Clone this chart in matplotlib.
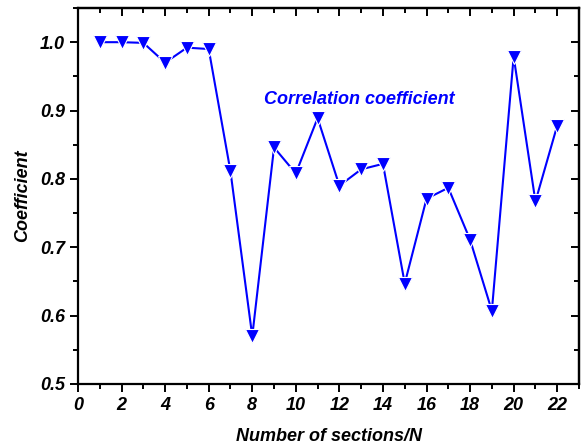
import matplotlib
matplotlib.use("Agg")
import matplotlib.pyplot as plt
from matplotlib.ticker import MultipleLocator

# === DATA ===
sections = [1, 2, 3, 4, 5, 6, 7, 8, 9, 10, 11, 12, 13, 14, 15, 16, 17, 18, 19, 20, 21, 22]
coefficient = [1.0, 1.0, 0.999, 0.970, 0.992, 0.990, 0.811, 0.570, 0.846, 0.808, 0.889,
               0.790, 0.814, 0.822, 0.647, 0.771, 0.787, 0.711, 0.607, 0.979, 0.767, 0.878]

plt.rcParams['font.family'] = ['Liberation Sans', 'DejaVu Sans']
plt.rcParams['font.weight'] = 'bold'
plt.rcParams['font.style'] = 'italic'
plt.rcParams['axes.labelweight'] = 'bold'

FS = 13

fig = plt.figure(figsize=(5.83, 4.45), dpi=100)
ax = fig.add_axes([78 / 583, 1 - 384 / 445, (579 - 78) / 583, (384 - 8) / 445])

ax.plot(sections, coefficient, color='#0000ff', lw=1.5, marker='v', ms=10.5,
        mfc='#0000ff', mec='white', mew=0.8)

ax.text(8.55, 0.916, 'Correlation coefficient', color='#0000ff', fontsize=FS,
        fontweight='bold', fontstyle='italic', va='center', ha='left')

ax.set_xlim(0, 23)
ax.set_ylim(0.5, 1.05)
ax.xaxis.set_major_locator(MultipleLocator(2))
ax.xaxis.set_minor_locator(MultipleLocator(1))
ax.yaxis.set_major_locator(MultipleLocator(0.1))
ax.yaxis.set_minor_locator(MultipleLocator(0.05))
ax.yaxis.set_major_formatter(plt.FormatStrFormatter('%.1f'))

for s in ax.spines.values():
    s.set_linewidth(1.6)

ax.tick_params(which='both', direction='out', width=1.4, labelsize=FS)
ax.tick_params(which='major', length=6)
ax.tick_params(which='minor', length=3.5)

# top/right ticks point inward
sx = ax.secondary_xaxis('top')
sx.set_xticks(range(0, 23, 2))
sx.xaxis.set_minor_locator(MultipleLocator(1))
sx.tick_params(which='both', direction='in', width=1.4, labeltop=False)
sx.tick_params(which='major', length=6)
sx.tick_params(which='minor', length=3.5)
sx.spines['top'].set_linewidth(1.6)
sy = ax.secondary_yaxis('right')
sy.yaxis.set_major_locator(MultipleLocator(0.1))
sy.yaxis.set_minor_locator(MultipleLocator(0.05))
sy.tick_params(which='both', direction='in', width=1.4, labelright=False)
sy.tick_params(which='major', length=6)
sy.tick_params(which='minor', length=3.5)
sy.spines['right'].set_linewidth(1.6)

ax.set_xlabel('Number of sections/N', fontsize=FS, labelpad=10)
ax.set_ylabel('Coefficient', fontsize=FS, labelpad=6)

fig.savefig('out.png', dpi=100)
